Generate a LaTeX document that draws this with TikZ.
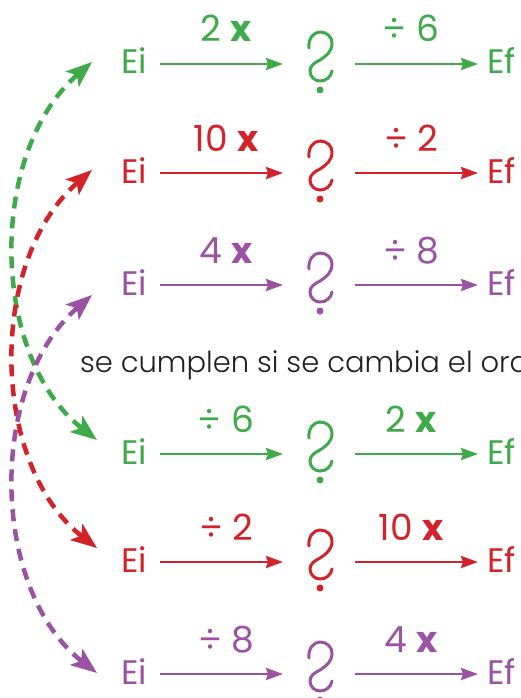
\documentclass[tikz,border=0pt]{standalone}
\usepackage{fontspec}
\setmainfont{Poppins}
\newfontfamily\lightfont{Poppins Light}
\usetikzlibrary{arrows.meta}
\definecolor{vgreen}{RGB}{62,170,73}
\definecolor{vred}{RGB}{210,35,42}
\definecolor{vpurple}{RGB}{155,82,162}
\definecolor{txtgray}{RGB}{35,31,32}

\begin{document}
\begin{tikzpicture}[x=1pt,y=-1pt,every node/.style={font=\fontsize{34}{40}\selectfont,inner sep=0pt,outer sep=0pt},ends/.style={text height=24pt,text depth=4pt},qbox/.style={minimum width=30pt,minimum height=58pt},oplabel/.style={midway,anchor=base,yshift=22pt,font=\fontsize{36}{40}\selectfont},arr/.style={-{Stealth[length=17pt,width=12pt,inset=2pt]},line width=2.8pt,shorten <=13pt},swaparr/.style={{Stealth[length=26pt,width=20pt,inset=6pt]}-{Stealth[length=26pt,width=20pt,inset=6pt]},line width=4.5pt,dash pattern=on 12pt off 8pt},qmark/.pic={\draw[line width=3pt,line cap=round] (-11,-16) .. controls (-12,-26) and (-6,-32) .. (0,-32) .. controls (7,-32) and (12,-27) .. (12,-21) .. controls (12,-12) and (6,-8) .. (0,-4) .. controls (-6,-1) and (-10,2) .. (-10,7) .. controls (-10,13) and (-5,17) .. (0,17) .. controls (6,17) and (11,13) .. (12,7); \fill (0,26) circle (3.5);}]
\useasboundingbox (0,0) rectangle (521,698);
\clip (0,0) rectangle (521,698);
\node[ends,vgreen,anchor=east] (ei1) at (147,64) {Ei};
\node[qbox] (q1) at (320,64) {};
\node[ends,vgreen,anchor=west] (ef1) at (487,64) {Ef};
\node[ends,vred,anchor=east] (ei2) at (147,173) {Ei};
\node[qbox] (q2) at (320,173) {};
\node[ends,vred,anchor=west] (ef2) at (487,173) {Ef};
\node[ends,vpurple,anchor=east] (ei3) at (147,285) {Ei};
\node[qbox] (q3) at (320,285) {};
\node[ends,vpurple,anchor=west] (ef3) at (487,285) {Ef};
\node[txtgray,anchor=base west,font=\lightfont\fontsize{29}{34}\selectfont] (rule) at (80,372) {se cumplen si se cambia el ord};
\node[ends,vgreen,anchor=east] (ei4) at (147,454) {Ei};
\node[qbox] (q4) at (320,454) {};
\node[ends,vgreen,anchor=west] (ef4) at (487,454) {Ef};
\node[ends,vred,anchor=east] (ei5) at (147,562) {Ei};
\node[qbox] (q5) at (320,562) {};
\node[ends,vred,anchor=west] (ef5) at (487,562) {Ef};
\node[ends,vpurple,anchor=east] (ei6) at (147,674) {Ei};
\node[qbox] (q6) at (320,674) {};
\node[ends,vpurple,anchor=west] (ef6) at (487,674) {Ef};
\pic[vgreen] at (q1) {qmark};
\pic[vred] at (q2) {qmark};
\pic[vpurple] at (q3) {qmark};
\pic[vgreen] at (q4) {qmark};
\pic[vred] at (q5) {qmark};
\pic[vpurple] at (q6) {qmark};
\draw[arr,vgreen,shorten >=22pt] (ei1) -- (q1) node[oplabel] {2 \textbf{x}};
\draw[arr,vgreen,shorten <=20pt,shorten >=9pt] (q1) -- (ef1) node[oplabel] {÷ 6};
\draw[arr,vred,shorten >=22pt] (ei2) -- (q2) node[oplabel] {10 \textbf{x}};
\draw[arr,vred,shorten <=20pt,shorten >=9pt] (q2) -- (ef2) node[oplabel] {÷ 2};
\draw[arr,vpurple,shorten >=22pt] (ei3) -- (q3) node[oplabel] {4 \textbf{x}};
\draw[arr,vpurple,shorten <=20pt,shorten >=9pt] (q3) -- (ef3) node[oplabel] {÷ 8};
\draw[arr,vgreen,shorten >=22pt] (ei4) -- (q4) node[oplabel] {÷ 6};
\draw[arr,vgreen,shorten <=20pt,shorten >=9pt] (q4) -- (ef4) node[oplabel] {2 \textbf{x}};
\draw[arr,vred,shorten >=22pt] (ei5) -- (q5) node[oplabel] {÷ 2};
\draw[arr,vred,shorten <=20pt,shorten >=9pt] (q5) -- (ef5) node[oplabel] {10 \textbf{x}};
\draw[arr,vpurple,shorten >=22pt] (ei6) -- (q6) node[oplabel] {÷ 8};
\draw[arr,vpurple,shorten <=20pt,shorten >=9pt] (q6) -- (ef6) node[oplabel] {4 \textbf{x}};
\coordinate (g1) at (92,62);
\coordinate (g4) at (97,440);
\coordinate (r2) at (92,170);
\coordinate (r5) at (97,548);
\coordinate (p3) at (92,295);
\coordinate (p6) at (97,673);
\draw[swaparr,vgreen] (g1) .. controls +(-106,92) and +(-106,-82) .. (g4);
\draw[swaparr,vred] (r2) .. controls +(-106,92) and +(-106,-82) .. (r5);
\draw[swaparr,vpurple] (p3) .. controls +(-106,92) and +(-106,-82) .. (p6);
\end{tikzpicture}
\end{document}
